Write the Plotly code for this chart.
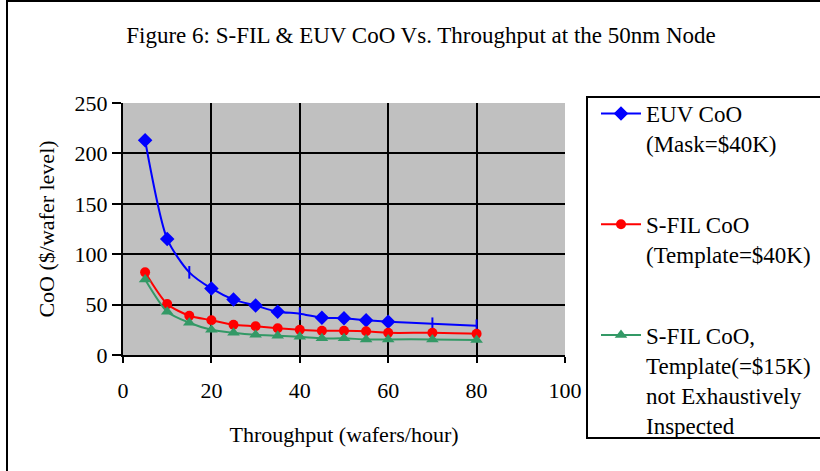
import plotly.graph_objects as go

# ---- data ----
throughput = [5, 10, 15, 20, 25, 30, 35, 40, 45, 50, 55, 60, 70, 80]
euv_coo = [213, 115, 82, 66, 55, 49, 43, 41, 37, 36.5, 34.5, 33, 31, 29]
sfil_coo_40k = [82, 50.5, 39, 34.5, 30, 28.5, 26.5, 25, 24, 24, 23.5, 22, 22, 21]
sfil_coo_15k = [75, 43, 32, 25, 22, 20, 19, 18, 16.5, 16.5, 15.5, 15.5, 15.5, 15]
euv_symbols = ["diamond", "diamond", "line-ns", "diamond", "diamond", "diamond", "diamond",
               "line-ns", "diamond", "diamond", "diamond", "diamond", "line-ns", "line-ns"]

names = ["EUV CoO<br>(Mask=$40K)",
         "S-FIL CoO<br>(Template=$40K)",
         "S-FIL CoO,<br>Template(=$15K)<br>not Exhaustively<br>Inspected"]
title_text = "Figure 6: S-FIL & EUV CoO Vs. Throughput at the 50nm Node"
x_title = "Throughput (wafers/hour)"
y_title = "CoO ($/wafer level)"
x_ticks = [0, 20, 40, 60, 80, 100]
y_ticks = [0, 50, 100, 150, 200, 250]

W, H = 820, 471
L, R, T, B = 123, 255, 103, 116
FONT = "Liberation Serif, Times New Roman, serif"

def px2paper_x(px):
    return (px - L) / (W - L - R)

def px2paper_y(py):
    return (H - B - py) / (H - T - B)

fig = go.Figure()
fig.add_trace(go.Scatter(
    x=throughput, y=euv_coo, name=names[0], mode="lines+markers",
    line=dict(color="#0000FF", width=2, shape="spline", smoothing=0.7),
    marker=dict(symbol=euv_symbols, size=9, color="#0000FF",
                line=dict(color="#0000FF", width=2)),
    legendgroup="a"))
fig.add_trace(go.Scatter(
    x=throughput, y=sfil_coo_40k, name=names[1], mode="lines+markers",
    line=dict(color="#FF0000", width=2, shape="spline", smoothing=0.7),
    marker=dict(symbol="circle", size=10, color="#FF0000"),
    legendgroup="b"))
fig.add_trace(go.Scatter(
    x=throughput, y=sfil_coo_15k, name=names[2], mode="lines+markers",
    line=dict(color="#339966", width=2, shape="spline", smoothing=0.7),
    marker=dict(symbol="triangle-up", size=11, color="#339966"),
    legendgroup="c"))

axis_common = dict(
    showline=True, linecolor="black", linewidth=2,
    showgrid=True, gridcolor="black", gridwidth=2,
    zeroline=False, ticks="outside", tickwidth=2, tickcolor="black",
    tickfont=dict(family=FONT, size=22, color="black"),
)
fig.update_xaxes(range=[0, 100], tickvals=x_ticks, ticklen=6, ticklabelstandoff=9,
                 title=dict(text=x_title, font=dict(family=FONT, size=22, color="black"), standoff=24),
                 **axis_common)
fig.update_yaxes(range=[0, 250], tickvals=y_ticks, ticklen=9, ticklabelstandoff=0,
                 title=dict(text=y_title, font=dict(family=FONT, size=22, color="black"), standoff=14),
                 **axis_common)

shapes = [
    # outer chart border
    dict(type="rect", xref="paper", yref="paper",
         x0=px2paper_x(7), x1=px2paper_x(W + 20), y0=px2paper_y(H + 20), y1=px2paper_y(1),
         line=dict(color="black", width=2), fillcolor="rgba(0,0,0,0)", layer="below"),
    # legend box
    dict(type="rect", xref="paper", yref="paper",
         x0=px2paper_x(587), x1=px2paper_x(W + 20), y0=px2paper_y(438), y1=px2paper_y(97),
         line=dict(color="black", width=2), fillcolor="rgba(0,0,0,0)"),
]

fig.update_layout(
    width=W, height=H,
    margin=dict(l=L, r=R, t=T, b=B),
    paper_bgcolor="white", plot_bgcolor="#C0C0C0",
    font=dict(family=FONT, size=22, color="black"),
    title=dict(text=title_text, x=421 / W, xanchor="center", xref="container",
               y=1 - 35 / H, yanchor="middle", yref="container",
               font=dict(family=FONT, size=23, color="black")),
    legend=dict(xref="container", yref="container", x=596 / W, y=1 - 92 / H,
                xanchor="left", yanchor="top", valign="top",
                font=dict(family=FONT, size=23, color="black"),
                bgcolor="rgba(0,0,0,0)", borderwidth=0, tracegroupgap=48,
                itemwidth=40, maxheight=460),
    shapes=shapes,
    showlegend=True,
)

fig.write_html("out.html")
